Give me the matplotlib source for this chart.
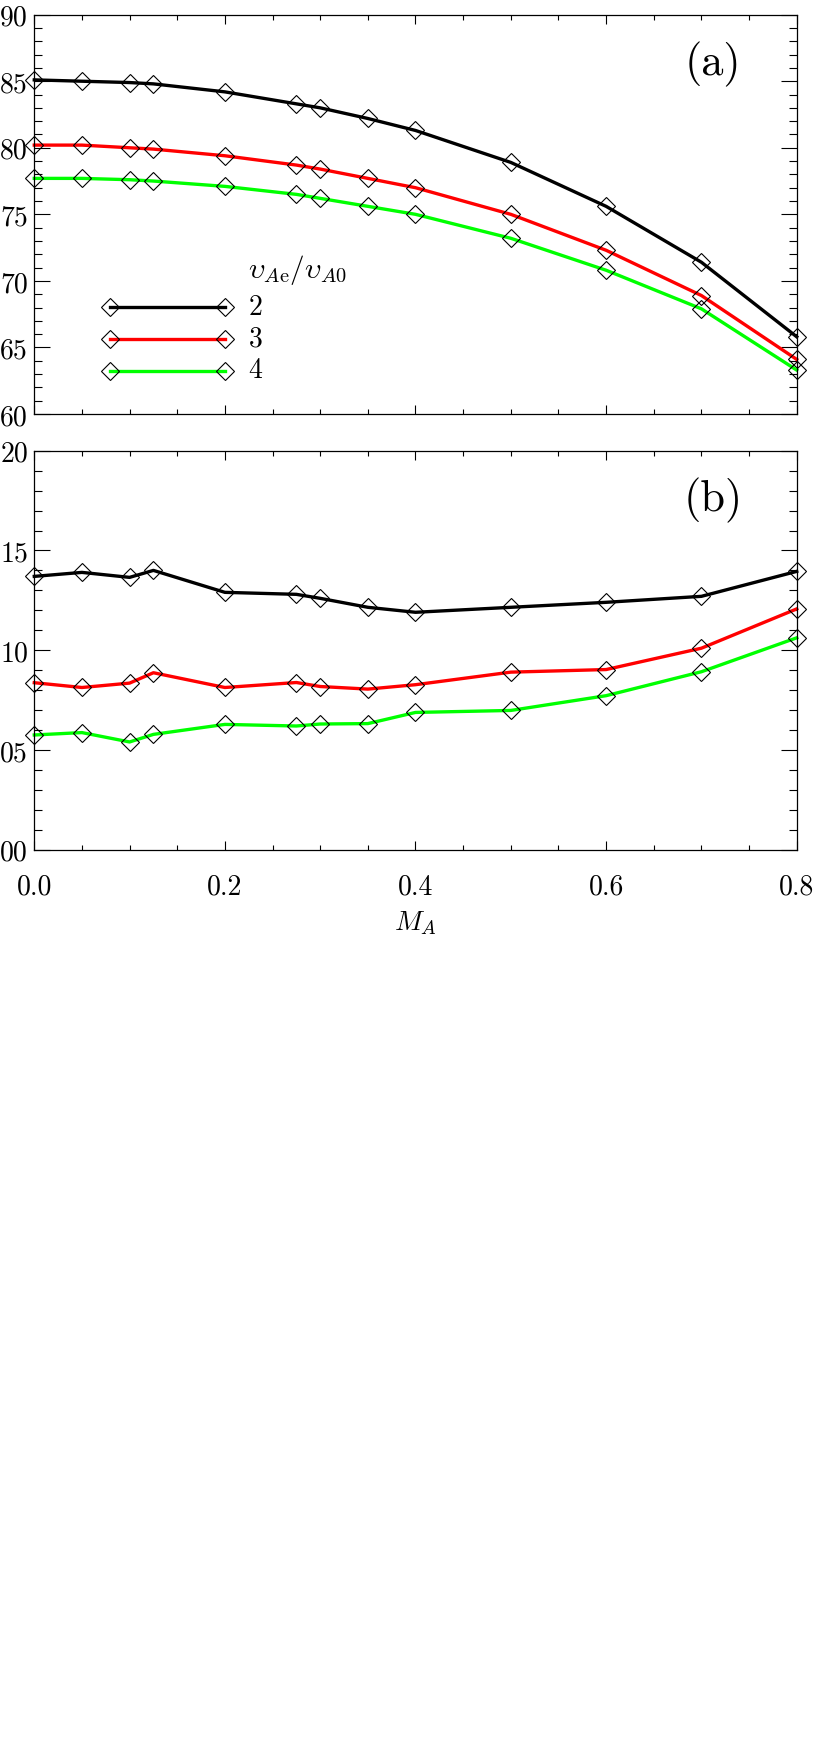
import matplotlib
matplotlib.use("Agg")
import matplotlib.pyplot as plt
from matplotlib.ticker import MultipleLocator, FixedLocator, FixedFormatter
from matplotlib.lines import Line2D
from matplotlib.transforms import ScaledTranslation

plt.rcParams['font.family'] = ['cmr10', 'DejaVu Serif']
plt.rcParams['mathtext.fontset'] = 'cm'
plt.rcParams['axes.unicode_minus'] = False

# Alfven Mach number
ma = [0.0, 0.05, 0.1, 0.125, 0.2, 0.275, 0.3, 0.35, 0.4, 0.5, 0.6, 0.7, 0.8]

# panel (a)
a_v2 = [0.851, 0.850, 0.849, 0.848, 0.842, 0.833, 0.830, 0.822, 0.813, 0.789, 0.756, 0.714, 0.658]
a_v3 = [0.802, 0.802, 0.800, 0.799, 0.794, 0.787, 0.784, 0.777, 0.770, 0.750, 0.723, 0.689, 0.641]
a_v4 = [0.777, 0.777, 0.776, 0.775, 0.771, 0.765, 0.762, 0.756, 0.750, 0.732, 0.708, 0.679, 0.633]

# panel (b)
b_v2 = [0.137, 0.139, 0.1365, 0.140, 0.129, 0.128, 0.126, 0.1215, 0.119, 0.1215, 0.124, 0.127, 0.1395]
b_v3 = [0.0837, 0.0813, 0.0835, 0.0887, 0.0813, 0.0838, 0.0818, 0.0805, 0.0827, 0.089, 0.0903, 0.101, 0.1207]
b_v4 = [0.0575, 0.0587, 0.054, 0.0578, 0.0628, 0.062, 0.063, 0.0632, 0.0688, 0.0698, 0.0772, 0.0892, 0.1062]

ratios = ['2', '3', '4']
colors = ['black', '#ff0000', '#00ff00']

# y tick labels as they show at the left edge of the figure
ya = [0.60, 0.65, 0.70, 0.75, 0.80, 0.85, 0.90]
ya_lab = ['60', '65', '70', '75', '80', '85', '90']
yb = [0.00, 0.05, 0.10, 0.15, 0.20]
yb_lab = ['00', '05', '10', '15', '20']
xt = [0.0, 0.2, 0.4, 0.6, 0.8]
xt_lab = ['0.0', '0.2', '0.4', '0.6', '0.8']

fig = plt.figure(figsize=(8.30, 17.40), dpi=100)
ax1 = fig.add_axes([0.0413, 0.7615, 0.9186, 0.2295])
ax2 = fig.add_axes([0.0413, 0.5111, 0.9186, 0.2293])

mk = dict(marker='D', markersize=9.2, markerfacecolor='none',
          markeredgecolor='black', markeredgewidth=0.8)
lw = 2.4

for ax, series in [(ax1, [a_v2, a_v3, a_v4]), (ax2, [b_v2, b_v3, b_v4])]:
    for vals, c in zip(series, colors):
        ax.plot(ma, vals, color=c, lw=lw, clip_on=False, **mk)
    ax.set_xlim(0, 0.8)
    ax.xaxis.set_major_locator(FixedLocator(xt))
    ax.xaxis.set_minor_locator(MultipleLocator(0.05))
    ax.yaxis.set_minor_locator(MultipleLocator(0.01))
    ax.tick_params(which='both', direction='in', top=True, right=True, width=0.8)
    ax.tick_params(axis='x', which='major', length=6.5, pad=17, labelsize=20)
    ax.tick_params(axis='x', which='minor', length=3.4)
    ax.tick_params(axis='y', which='major', length=11.3, pad=4.5, labelsize=20)
    ax.tick_params(axis='y', which='minor', length=6)
    for s in ax.spines.values():
        s.set_linewidth(0.9)

# panel (a) axes
ax1.set_ylim(0.60, 0.90)
ax1.yaxis.set_major_locator(FixedLocator(ya))
ax1.yaxis.set_major_formatter(FixedFormatter(ya_lab))
ax1.tick_params(axis='x', labelbottom=False)
ax1.text(0.89, 0.877, '(a)', transform=ax1.transAxes, fontsize=32,
         ha='center', va='center')

# legend
handles = [Line2D([], [], color=c, lw=lw, **mk) for c in colors]
leg = ax1.legend(handles, ratios, loc='upper left', bbox_to_anchor=(0.088, 0.295),
                 frameon=False, numpoints=2, handlelength=4.74, handletextpad=0.56,
                 labelspacing=0.2, borderpad=0, borderaxespad=0, fontsize=20)
for t in leg.get_texts():
    t.set_transform(t.get_transform() + ScaledTranslation(0, 0.03, fig.dpi_scale_trans))
ax1.text(0.280, 0.343, r'$\upsilon_{A\mathrm{e}}/\upsilon_{A0}$',
         transform=ax1.transAxes, fontsize=21, ha='left', va='baseline')

# panel (b) axes
ax2.set_ylim(0.0, 0.20)
ax2.yaxis.set_major_locator(FixedLocator(yb))
ax2.yaxis.set_major_formatter(FixedFormatter(yb_lab))
ax2.xaxis.set_major_formatter(FixedFormatter(xt_lab))
ax2.set_xlabel(r'$M_A$', fontsize=20, labelpad=6)
ax2.text(0.89, 0.879, '(b)', transform=ax2.transAxes, fontsize=32,
         ha='center', va='center')

fig.savefig('out.png', dpi=100)
